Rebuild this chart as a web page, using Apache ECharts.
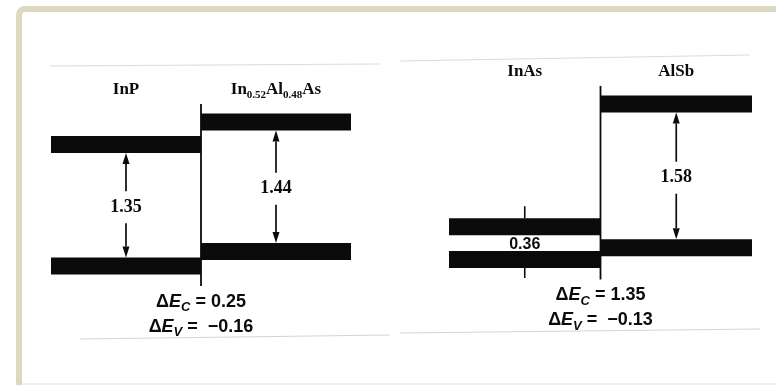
<!DOCTYPE html>
<html>
<head>
<meta charset="utf-8">
<script src="https://cdn.jsdelivr.net/npm/echarts@6/dist/echarts.min.js"></script>
<style>
  html, body { margin: 0; padding: 0; background: #fff; overflow: hidden; }
  #chart { width: 776px; height: 385px; }
</style>
</head>
<body>
<div id="chart"></div>
<script>
// Heterojunction band alignments, energies in eV.
// Panel 0: InP / In0.52Al0.48As, panel 1: InAs / AlSb.
const leftMaterials  = ['InP', 'InAs'];
const rightMaterials = ['In_{0.52}Al_{0.48}As', 'AlSb'];
const leftGaps  = [1.35, 0.36];
const rightGaps = [1.44, 1.58];
const deltaEc = [0.25, 1.35];
const deltaEv = [-0.16, -0.13];
// how each gap is annotated: double arrow, or a plain label with end ticks
const leftGapMarks  = ['arrow', 'ticks'];
const rightGapMarks = ['arrow', 'arrow'];

// layout of each panel
const panelLeft  = [51, 449];
const panelWidth = [300, 303];
const GRID_TOP = 40, GRID_H = 300;
const pxPerEv = [90, 91];
const vbPixel = [266, 259.5];   // where the left valence band sits
const BAND = 17;
const INK = '#0b0b0b';
const SERIF = 'Liberation Serif';
const SANS = 'Liberation Sans';

// band edges derived from gaps and offsets (left valence band = 0)
function edges(p) {
  const evL = 0, ecL = leftGaps[p];
  const evR = -deltaEv[p], ecR = evR + rightGaps[p];
  return { evL, ecL, evR, ecR };
}

function fmt(v) {
  return (v < 0 ? ' \u2212' : '') + Math.abs(v).toFixed(2);
}

// 'In_{0.52}Al' -> rich text with subscripts
function richName(name) {
  return name.split(/(_\{[^}]*\})/).filter(s => s.length).map(s => {
    const m = s.match(/^_\{(.*)\}$/);
    return m ? '{s|' + m[1] + '}' : '{m|' + s + '}';
  }).join('');
}

const grids = [], xAxes = [], yAxes = [], series = [];

for (let p = 0; p < 2; p++) {
  const e = edges(p);
  const yMin = -(GRID_TOP + GRID_H - vbPixel[p]) / pxPerEv[p];
  const yMax = yMin + GRID_H / pxPerEv[p];
  grids.push({ left: panelLeft[p], width: panelWidth[p], top: GRID_TOP, height: GRID_H });
  xAxes.push({ type: 'value', gridIndex: p, min: 0, max: 2, show: false });
  yAxes.push({ type: 'value', gridIndex: p, min: yMin, max: yMax, show: false });

  const ecTop = Math.max(e.ecL, e.ecR);
  const evBottom = Math.min(e.evL, e.evR);
  const axisRef = { xAxisIndex: p, yAxisIndex: p, coordinateSystem: 'cartesian2d' };

  // energy bands
  series.push(Object.assign({
    type: 'custom', name: 'bands' + p, z: 2,
    encode: { x: [0, 1], y: 2 },
    data: [[0, 1, e.evL], [1, 2, e.evR], [0, 1, e.ecL], [1, 2, e.ecR]],
    renderItem: (params, api) => {
      const a = api.coord([api.value(0), api.value(2)]);
      const b = api.coord([api.value(1), api.value(2)]);
      return { type: 'rect', shape: { x: a[0], y: a[1] - BAND / 2, width: b[0] - a[0], height: BAND },
               style: { fill: INK } };
    }
  }, axisRef));

  // interface line
  series.push(Object.assign({
    type: 'custom', name: 'interface' + p, z: 3,
    encode: { x: 0, y: [1, 2] },
    data: [[1, ecTop, evBottom]],
    renderItem: (params, api) => {
      const t = api.coord([1, api.value(1)]);
      const b = api.coord([1, api.value(2)]);
      return { type: 'line', shape: { x1: t[0], y1: t[1] - 18, x2: b[0], y2: b[1] + 20 },
               style: { stroke: INK, lineWidth: 1.8 } };
    }
  }, axisRef));

  // band-gap annotations
  const gapVals = [leftGaps[p], rightGaps[p]];
  const gapMarks = [leftGapMarks[p], rightGapMarks[p]];
  series.push(Object.assign({
    type: 'custom', name: 'gaps' + p, z: 4,
    encode: { x: 0, y: [1, 2] },
    data: [[0.5, e.ecL, e.evL], [1.5, e.ecR, e.evR]],
    renderItem: (params, api) => {
      const i = params.dataIndex;
      const top = api.coord([api.value(0), api.value(1)]);
      const bot = api.coord([api.value(0), api.value(2)]);
      const x = top[0];
      const y1 = top[1] + BAND / 2, y2 = bot[1] - BAND / 2;
      const mid = (y1 + y2) / 2;
      const children = [];
      if (gapMarks[i] === 'arrow') {
        const hl = 11, hw = 3.5;
        children.push({ type: 'line', shape: { x1: x, y1: y1 + hl, x2: x, y2: y2 - hl },
                        style: { stroke: INK, lineWidth: 1.7 } });
        children.push({ type: 'polygon', shape: { points: [[x, y1], [x - hw, y1 + hl], [x + hw, y1 + hl]] },
                        style: { fill: INK } });
        children.push({ type: 'polygon', shape: { points: [[x, y2], [x - hw, y2 - hl], [x + hw, y2 - hl]] },
                        style: { fill: INK } });
        children.push({ type: 'text', z2: 5, style: {
          x: x, y: mid + 2, text: gapVals[i].toFixed(2), align: 'center', verticalAlign: 'middle',
          fontFamily: SERIF, fontWeight: 'bold', fontSize: 18, fill: INK,
          backgroundColor: '#fff', padding: [7, 2] } });
      } else {
        children.push({ type: 'line', shape: { x1: x, y1: top[1] - BAND / 2 - 12, x2: x, y2: top[1] - BAND / 2 },
                        style: { stroke: INK, lineWidth: 1.6 } });
        children.push({ type: 'line', shape: { x1: x, y1: bot[1] + BAND / 2, x2: x, y2: bot[1] + BAND / 2 + 10 },
                        style: { stroke: INK, lineWidth: 1.6 } });
        children.push({ type: 'text', style: {
          x: x, y: mid + 1, text: gapVals[i].toFixed(2), align: 'center', verticalAlign: 'middle',
          fontFamily: SANS, fontWeight: 'bold', fontSize: 16, fill: INK } });
      }
      return { type: 'group', children };
    }
  }, axisRef));

  // material names
  const names = [leftMaterials[p], rightMaterials[p]];
  series.push(Object.assign({
    type: 'custom', name: 'names' + p, z: 4,
    encode: { x: 0, y: 1 },
    data: [[0.5, ecTop], [1.5, ecTop]],
    renderItem: (params, api) => {
      const c = api.coord([api.value(0), api.value(1)]);
      return { type: 'text', style: {
        x: c[0], y: c[1] - 31, text: richName(names[params.dataIndex]),
        align: 'center', verticalAlign: 'middle', fill: INK,
        rich: {
          m: { fontFamily: SERIF, fontWeight: 'bold', fontSize: 17, lineHeight: 20, verticalAlign: 'top', fill: INK },
          s: { fontFamily: SERIF, fontWeight: 'bold', fontSize: 11, lineHeight: 11, verticalAlign: 'bottom', fill: INK }
        } } };
    }
  }, axisRef));

  // band offsets below the junction
  series.push(Object.assign({
    type: 'custom', name: 'offsets' + p, z: 4,
    encode: { x: 0, y: 1 },
    data: [[1, evBottom]],
    renderItem: (params, api) => {
      const c = api.coord([1, api.value(1)]);
      const base = c[1] + BAND / 2;
      const rich = {
        d: { fontFamily: SANS, fontWeight: 'bold', fontSize: 18, lineHeight: 21, verticalAlign: 'top', fill: INK },
        e: { fontFamily: SANS, fontWeight: 'bold', fontStyle: 'italic', fontSize: 18, lineHeight: 21, verticalAlign: 'top', fill: INK },
        s: { fontFamily: SANS, fontWeight: 'bold', fontStyle: 'italic', fontSize: 13, lineHeight: 13, verticalAlign: 'bottom', fill: INK }
      };
      const line = (sub, v, y) => ({ type: 'text', style: {
        x: c[0], y: y, align: 'center', verticalAlign: 'middle', rich: rich,
        text: '{d|\u0394}{e|E}{s|' + sub + '}{d| = ' + fmt(v) + '}' } });
      return { type: 'group', children: [
        line('C', deltaEc[p], base + 29),
        line('V', deltaEv[p], base + 54)
      ] };
    }
  }, axisRef));
}

const chart = echarts.init(document.getElementById('chart'), null, { renderer: 'canvas' });
chart.setOption({
  backgroundColor: '#fff',
  animation: false,
  grid: grids,
  xAxis: xAxes,
  yAxis: yAxes,
  series: series,
  graphic: [
    // page frame: left and top edges with a rounded corner
    { type: 'polyline', z: 0,
      shape: { points: [[19, 420], [19, 15], [19.5, 12.5], [21, 10.5], [23, 9.3], [25, 9], [900, 9]] },
      style: { fill: 'none', stroke: '#ddd8c2', lineWidth: 6, lineJoin: 'round' } },
    { type: 'line', z: 0, shape: { x1: 22, y1: 384, x2: 776, y2: 384 },
      style: { stroke: '#f1efe6', lineWidth: 2 } },
    // faint edges of the printed figure
    { type: 'polyline', z: 1, shape: { points: [[50, 66], [380, 64]] }, style: { stroke: '#dcdcdc', lineWidth: 1 } },
    { type: 'polyline', z: 1, shape: { points: [[400, 61], [750, 55]] }, style: { stroke: '#dcdcdc', lineWidth: 1 } },
    { type: 'polyline', z: 1, shape: { points: [[80, 339], [390, 335]] }, style: { stroke: '#d4d4d4', lineWidth: 1 } },
    { type: 'polyline', z: 1, shape: { points: [[400, 333], [760, 329]] }, style: { stroke: '#d4d4d4', lineWidth: 1 } }
  ]
});
</script>
</body>
</html>
